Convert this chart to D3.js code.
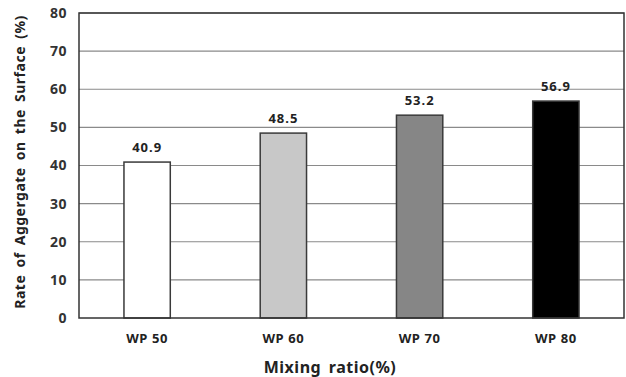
<!DOCTYPE html>
<html><head><meta charset="utf-8">
<script src="https://cdn.jsdelivr.net/npm/d3@7"></script>
<style>body{margin:0;background:#fff}svg text{font-family:"Noto Sans","Open Sans",sans-serif}</style>
</head><body><svg id="c" width="626" height="377"></svg>
<script>
const categories = ["WP 50","WP 60","WP 70","WP 80"];
const values = [40.9, 48.5, 53.2, 56.9];
const fills = ["#ffffff","#c8c8c8","#868686","#000000"];
const yTicks = [0,10,20,30,40,50,60,70,80];

const svg = d3.select("#c");
const m = {l:79, r:2, t:13, b:59};
const W = 626, H = 377;
const x = d3.scaleBand().domain(categories).range([m.l, W-m.r]).paddingInner(0.66).paddingOuter(0.33);
const y = d3.scaleLinear().domain([0,80]).range([H-m.b, m.t]);

// grid
svg.append("g").selectAll("line").data(yTicks.slice(1)).join("line")
  .attr("x1", m.l).attr("x2", W-m.r).attr("y1", d=>y(d)).attr("y2", d=>y(d))
  .attr("stroke","#8a8a8a").attr("stroke-width",1.2);

// bars
svg.append("g").selectAll("rect").data(values).join("rect")
  .attr("x",(d,i)=>x(categories[i])).attr("width",x.bandwidth())
  .attr("y",d=>y(d)).attr("height",d=>y(0)-y(d))
  .attr("fill",(d,i)=>fills[i]).attr("stroke","#3a3a3a").attr("stroke-width",1.5);

// value labels
svg.append("g").selectAll("text").data(values).join("text")
  .attr("x",(d,i)=>x(categories[i])+x.bandwidth()/2).attr("y",d=>y(d)-10)
  .attr("text-anchor","middle").attr("font-size",13).attr("font-weight","bold").attr("fill","#222")
  .attr("letter-spacing",1)
  .text(d=>d.toFixed(1));

// plot border
svg.append("rect").attr("x",m.l).attr("y",m.t).attr("width",W-m.r-m.l).attr("height",H-m.b-m.t)
  .attr("fill","none").attr("stroke","#333").attr("stroke-width",1.5);

// y axis
const ya = svg.append("g").attr("transform",`translate(${m.l},0)`)
  .call(d3.axisLeft(y).tickValues(yTicks).tickSize(0).tickPadding(12));
ya.select(".domain").remove();
ya.selectAll("text").attr("font-size",14).attr("font-weight","bold").attr("fill","#333")
  .attr("letter-spacing",0.5)
  .style("font-family","'Noto Sans',sans-serif");

// x axis
const xa = svg.append("g").attr("transform",`translate(0,${y(0)})`)
  .call(d3.axisBottom(x).tickSize(0).tickPadding(16));
xa.select(".domain").remove();
xa.selectAll("text").attr("font-size",13).attr("font-weight","bold").attr("fill","#222")
  .attr("letter-spacing",0.6)
  .style("font-family","'Noto Sans',sans-serif");

// titles
svg.append("text").attr("x",330).attr("y",373).attr("text-anchor","middle")
  .attr("font-size",16).attr("font-weight","bold").attr("fill","#222")
  .attr("letter-spacing",0.5).attr("word-spacing",3).text("Mixing ratio(%)");
svg.append("text").attr("transform","translate(25,162) rotate(-90)").attr("text-anchor","middle")
  .attr("font-size",14).attr("font-weight","bold").attr("fill","#222")
  .attr("letter-spacing",0.5).attr("word-spacing",3).text("Rate of Aggergate on the Surface (%)");
</script></body></html>
